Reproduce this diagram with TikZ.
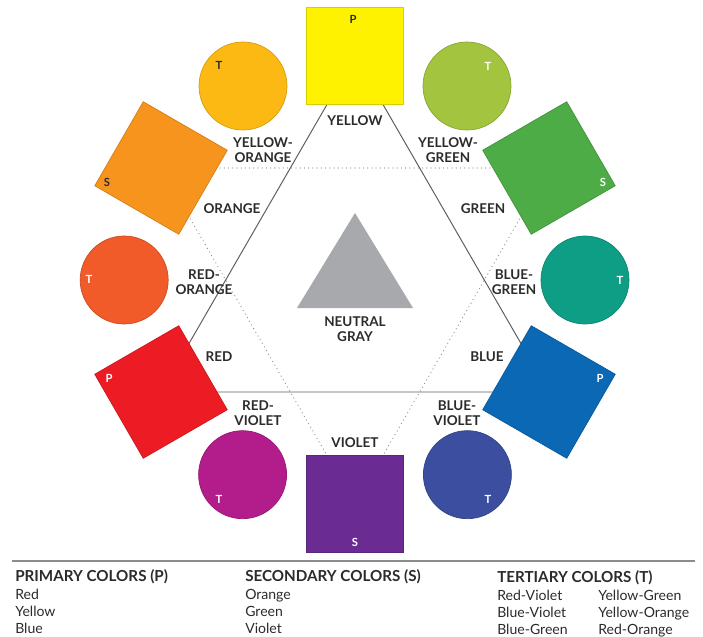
\documentclass[tikz,border=0pt]{standalone}
\usepackage{fontspec}
\setmainfont{Lato}
\usepackage{tikz}
\usepackage{xcolor}
\usetikzlibrary{positioning, backgrounds}
\definecolor{WheelYellow}{HTML}{FFF200}
\definecolor{WheelYellowOrange}{HTML}{FDB913}
\definecolor{WheelOrange}{HTML}{F7941D}
\definecolor{WheelRedOrange}{HTML}{F15A29}
\definecolor{WheelRed}{HTML}{ED1C24}
\definecolor{WheelRedViolet}{HTML}{B21D8B}
\definecolor{WheelViolet}{HTML}{6A2C93}
\definecolor{WheelBlueViolet}{HTML}{3C4EA0}
\definecolor{WheelBlue}{HTML}{0B68B5}
\definecolor{WheelBlueGreen}{HTML}{0E9E85}
\definecolor{WheelGreen}{HTML}{4EAC47}
\definecolor{WheelYellowGreen}{HTML}{A2C43E}
\definecolor{WheelInk}{HTML}{2B2B2B}
\definecolor{WheelWhite}{HTML}{FFFFFF}
\definecolor{WheelLine}{HTML}{5E5E5E}
\definecolor{WheelDot}{HTML}{8C8C8C}
\definecolor{WheelGray}{HTML}{A7A9AC}
\tikzset{
    colorsquare/.style={
        draw=#1!85!black,
        line width=0.5pt,
        fill=#1,
        minimum size=2.425cm,
        inner sep=0pt
    },
    colorsquare/.default=WheelYellow,
    colorcircle/.style={
        circle,
        draw=#1!85!black,
        line width=0.5pt,
        fill=#1,
        minimum size=2.2cm,
        inner sep=0pt
    },
    colorcircle/.default=WheelYellowOrange,
    huelabel/.style={
        text=WheelInk,
        font=\fontsize{9.6}{10.5}\selectfont\bfseries,
        align=center,
        inner sep=1pt
    },
    lettertag/.style={
        text=#1,
        font=\fontsize{8}{8}\selectfont\bfseries,
        inner sep=0pt
    },
    lettertag/.default=WheelWhite,
    primline/.style={
        WheelLine,
        line width=0.7pt
    },
    secline/.style={
        WheelDot,
        line width=0.9pt,
        line cap=round,
        dash pattern=on 0pt off 3pt
    },
    legendtext/.style={
        text=WheelInk,
        font=\fontsize{10}{12.3}\selectfont,
        align=left,
        anchor=north west,
        inner sep=0pt
    }
}
\newcommand{\legendhead}[1]{{\fontsize{10.8}{12.3}\selectfont\bfseries #1}}

\begin{document}
\begin{tikzpicture}
    \useasboundingbox (-8.875,-8.9) rectangle (8.7,7.0);

    % Primary and secondary squares
    \node[colorsquare=WheelYellow] (yellow) at (90:5.6) {};
    \node[colorsquare=WheelOrange, rotate=-30] (orange) at (150:5.6) {};
    \node[colorsquare=WheelRed, rotate=30] (red) at (210:5.6) {};
    \node[colorsquare=WheelViolet] (violet) at (270:5.6) {};
    \node[colorsquare=WheelBlue, rotate=-30] (blue) at (330:5.6) {};
    \node[colorsquare=WheelGreen, rotate=30] (green) at (30:5.6) {};

    % Tertiary circles
    \node[colorcircle=WheelYellowOrange] (yelloworange) at (120:5.6) {};
    \node[colorcircle=WheelRedOrange] (redorange) at (180:5.77) {};
    \node[colorcircle=WheelRedViolet] (redviolet) at (240:5.62) {};
    \node[colorcircle=WheelBlueViolet] (blueviolet) at (300:5.62) {};
    \node[colorcircle=WheelBlueGreen] (bluegreen) at (0:5.75) {};
    \node[colorcircle=WheelYellowGreen] (yellowgreen) at (60:5.6) {};

    % Triangles behind the shapes
    \begin{scope}[on background layer]
        \draw[primline] (yellow.center) -- (red.center) -- (blue.center) -- cycle;
        \draw[secline] (orange.center) -- (green.center) -- (violet.center) -- cycle;
    \end{scope}

    % Neutral gray
    \fill[WheelGray] (0,1.675) -- (-1.45,-0.7) -- (1.45,-0.7) -- cycle;
    \node[huelabel, font=\fontsize{9.6}{10.7}\selectfont\bfseries] (neutral) at (0,-1.24) {NEUTRAL\\GRAY};

    % Hue names
    \node[huelabel] (lblyellow) at (0,3.975) {YELLOW};
    \node[huelabel] (lblyelloworange) at (-2.3,3.25) {YELLOW-\\ORANGE};
    \node[huelabel] (lblyellowgreen) at (2.325,3.25) {YELLOW-\\GREEN};
    \node[huelabel] (lblorange) at (-3.075,1.775) {ORANGE};
    \node[huelabel] (lblgreen) at (3.2,1.775) {GREEN};
    \node[huelabel] (lblredorange) at (-3.775,-0.05) {RED-\\ORANGE};
    \node[huelabel] (lblbluegreen) at (3.975,-0.05) {BLUE-\\GREEN};
    \node[huelabel] (lblred) at (-3.4,-1.925) {RED};
    \node[huelabel] (lblblue) at (3.3,-1.925) {BLUE};
    \node[huelabel] (lblredviolet) at (-2.425,-3.325) {RED-\\VIOLET};
    \node[huelabel] (lblblueviolet) at (2.55,-3.325) {BLUE-\\VIOLET};
    \node[huelabel] (lblviolet) at (0,-4.075) {VIOLET};

    % P / S / T tags
    \node[lettertag=WheelInk] (tagyellow) at (-0.05,6.525) {P};
    \node[lettertag=WheelInk] (tagorange) at (-6.2,2.45) {S};
    \node[lettertag] (tagred) at (-6.15,-2.45) {P};
    \node[lettertag] (tagviolet) at (0,-6.55) {S};
    \node[lettertag] (tagblue) at (6.125,-2.45) {P};
    \node[lettertag] (taggreen) at (6.2,2.45) {S};
    \node[lettertag=WheelInk] (tagyelloworange) at (-3.4,5.375) {T};
    \node[lettertag] (tagyellowgreen) at (3.325,5.35) {T};
    \node[lettertag] (tagredorange) at (-6.65,0.025) {T};
    \node[lettertag] (tagbluegreen) at (6.625,0) {T};
    \node[lettertag] (tagredviolet) at (-3.4,-5.475) {T};
    \node[lettertag] (tagblueviolet) at (3.325,-5.475) {T};

    % Legend
    \coordinate (ruleleft) at (-8.575,-7.025);
    \coordinate (ruleright) at (8.5,-7.025);
    \draw[WheelDot, line width=0.9pt] (ruleleft) -- (ruleright);
    \node[legendtext] (primary) at (-8.5,-7.24) {
        \legendhead{PRIMARY COLORS (P)}\\
        Red\\
        Yellow\\
        Blue
    };
    \node[legendtext] (secondary) at (-2.75,-7.24) {
        \legendhead{SECONDARY COLORS (S)}\\
        Orange\\
        Green\\
        Violet
    };
    \node[legendtext] (tertiary) at (3.55,-7.26) {
        \begin{tabular}{@{}p{2.525cm}@{}l@{}}
            \multicolumn{2}{@{}l}{\legendhead{TERTIARY COLORS (T)}}\\
            Red-Violet & Yellow-Green\\
            Blue-Violet & Yellow-Orange\\
            Blue-Green & Red-Orange
        \end{tabular}
    };
\end{tikzpicture}
\end{document}
